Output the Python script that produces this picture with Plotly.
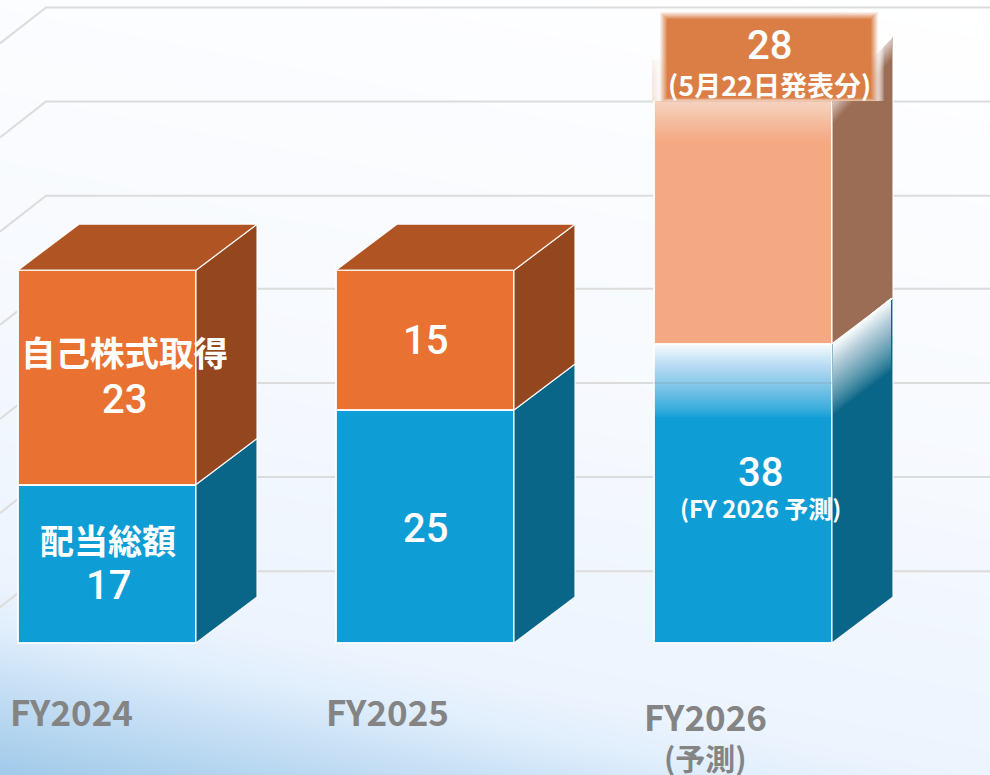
import numpy as np
import plotly.graph_objects as go

# ---------- data ----------
years = [0, 1, 2]
dividend_labels = ["17", "25", "38"]
buyback_labels = ["23", "15", "28"]
dividend_drawn = [17.0, 25.0, 32.1]   # the FY2026 block is drawn shorter than its 38 label
buyback_drawn = [23.0, 15.0, 28.1]
grid_levels = [7.7, 17.8, 27.9, 38.0, 48.0, 58.1, 68.2]

# ---------- geometry ----------
PX_CAT, X0, PX_UNIT, Y0 = 318.0, 107.0, 9.32, 643.0
W, H = 990, 775
def X(px): return (px - X0) / PX_CAT
def V(py): return (Y0 - py) / PX_UNIT
BAR_W = 178 / PX_CAT
DX, DV = 61 / PX_CAT, 46 / PX_UNIT

BLUE, BLUE_SIDE = "#0f9dd6", "#0a6688"
ORANGE, ORANGE_TOP, ORANGE_SIDE = "#e97232", "#b05424", "#94471e"
PEACH, PEACH_SIDE, BOX = "#f5a983", "#9b6d54", "#db7e45"
EDGE = "rgba(255,255,255,0.9)"
LABEL = "#848484"

fig = go.Figure()

# background wash
gx = np.linspace(0, W, 100)
gy = np.linspace(0, H, 90)
s = gy[:, None] - 0.2 * gx[None, :]
stops = [(-200, 0), (300, 1), (580, 2), (630, 3), (685, 4), (765, 5)]
z = np.interp(s, [a for a, _ in stops], [b for _, b in stops]) / 5
fig.add_trace(go.Heatmap(
    x=X(gx), y=V(gy), z=z, zmin=0, zmax=1, zsmooth="best", showscale=False, hoverinfo="skip",
    colorscale=[[0, "#ffffff"], [0.2, "#f6f9fe"], [0.4, "#ecf4fe"], [0.6, "#e0eefc"],
                [0.8, "#c6dff5"], [1, "#a4ccea"]]))

# back wall grid with its left return (lower axes pair, so it sits behind the blocks)
gxs, gys = [], []
for lv in grid_levels:
    gxs += [X(0), X(46), X(990), None]
    gys += [lv - 36 / PX_UNIT, lv, lv, None]
fig.add_trace(go.Scatter(x=gxs, y=gys, mode="lines", line=dict(color="#dcdcdc", width=2),
                         hoverinfo="skip", showlegend=False))

# front faces
fig.add_trace(go.Bar(x=years, y=dividend_drawn, width=BAR_W, xaxis="x2", yaxis="y2",
                     marker=dict(color=BLUE, line=dict(color=EDGE, width=2)),
                     hoverinfo="skip", showlegend=False))
fig.add_trace(go.Bar(x=years, y=buyback_drawn, width=BAR_W, xaxis="x2", yaxis="y2",
                     marker=dict(color=[ORANGE, ORANGE, PEACH], line=dict(color=EDGE, width=2)),
                     hoverinfo="skip", showlegend=False))

def poly(xs, ys, color, width=1.2, line=EDGE):
    fig.add_trace(go.Scatter(x=xs + xs[:1], y=ys + ys[:1], mode="lines", fill="toself", fillcolor=color,
                             xaxis="x2", yaxis="y2",
                             line=dict(color=line, width=width), hoverinfo="skip", showlegend=False))

# side and top faces, computed from the values
for i, d, b in zip(years, dividend_drawn, buyback_drawn):
    r = i + BAR_W / 2
    l = i - BAR_W / 2
    t = d + b
    poly([r, r + DX, r + DX, r], [0, DV, d + DV, d], BLUE_SIDE)
    poly([r, r + DX, r + DX, r], [d, d + DV, t + DV, t], PEACH_SIDE if i == 2 else ORANGE_SIDE)
    if i != 2:
        poly([l, l + DX, r + DX, r], [t, t + DV, t + DV, t], ORANGE_TOP)

# ---------- FY2026 fades ----------
shapes = []
def layer(pts, color, alpha):
    p = "M" + " L".join(f"{X(a):.5f},{V(b):.5f}" for a, b in pts) + " Z"
    shapes.append(dict(type="path", path=p, xref="x", yref="y", fillcolor=color, opacity=float(alpha),
                       line=dict(width=0), layer="above"))

def fade(make_pts, n, amax, color="#ffffff", power=1.0):
    """stack of layers whose accumulated opacity rises from 0 to amax"""
    prev = 0.0
    for k in range(1, n + 1):
        f = k / n
        a = amax * f ** power
        layer(make_pts(f), color, 1 - (1 - a) / (1 - prev))
        prev = a

FL, FR = 654, 832
SR = 891
# blue front: fade up to its top edge
fade(lambda f: [(FL - 1, 345), (FR, 345), (FR, 419 - 74 * f), (FL - 1, 419 - 74 * f)], 40, 0.98, power=0.8)
# blue side
fade(lambda f: [(FR + 1, 344), (SR, 298), (SR, 372 - 72 * f), (FR + 1, 416 - 70 * f)], 40, 0.97, power=0.85)
# grid seen through the blue fade
layer([(FL, 382), (FR, 382), (FR, 384), (FL, 384)], "#7f9fb0", 0.3)
# peach front: fade up under the box
fade(lambda f: [(FL - 1, 60), (FR, 60), (FR, 143 - 43 * f), (FL - 1, 143 - 43 * f)], 24, 0.57)
layer([(FL - 2, 60), (FR + 1, 60), (FR + 1, 101), (FL - 2, 101)], "#f6e4da", 1)
fade(lambda f: [(FL - 2, 40), (FR + 1, 40), (FR + 1, 101 - 60 * f), (FL - 2, 101 - 60 * f)], 16, 0.98)
# peach side
fade(lambda f: [(FR + 1, 60), (SR + 1, 30), (SR + 1, 60 - 22 * f), (FR + 1, 125 - 25 * f)], 24, 0.72)
layer([(FR + 1, 30), (SR + 1, 30), (SR + 1, 38), (FR + 1, 100)], "#ffffff", 1)

# blurred box carrying the announced figure
for k in range(8):
    layer([(654 + k, 8 + k), (884 - k, 8 + k), (884 - k, 101), (654 + k, 101)], "#ffffff", 0.18)
for k in range(8):
    a = 1 - (1 - (k + 1) / 8) / (1 - k / 8) if k < 7 else 1
    layer([(660 + k, 12 + k), (878 - k, 12 + k), (878 - k, 102 - k * 0.6), (660 + k, 102 - k * 0.6)], BOX, a)

# ---------- text ----------
CJK = "Noto Sans CJK JP"
NUM = "Roboto"
notes = []
def text(px, py, s, size, color="#ffffff", weight=700, family=CJK):
    notes.append(dict(x=X(px), y=V(py), xref="x", yref="y", text=s, showarrow=False,
                      font=dict(family=family, size=size, color=color, weight=weight),
                      xanchor="center", yanchor="middle"))

text(124, 351, "自己株式取得", 34.5)
text(124, 399, buyback_labels[0], 40, weight=500, family=NUM)
text(108, 539, "配当総額", 34)
text(108, 585, dividend_labels[0], 40, weight=500, family=NUM)
text(425, 340, buyback_labels[1], 40, weight=500, family=NUM)
text(425, 528, dividend_labels[1], 40, weight=500, family=NUM)
text(760, 472, dividend_labels[2], 40, weight=500, family=NUM)
text(760, 507, "(FY 2026 予測)", 24)
text(769, 45, buyback_labels[2], 40, weight=500, family=NUM)
text(769, 84, "(5月22日発表分)", 27)
text(71, 710, "FY2024", 35, LABEL)
text(387, 710, "FY2025", 35, LABEL)
text(705, 715, "FY2026", 35, LABEL)
text(705, 757, "(予測)", 30, LABEL)

axis = dict(visible=False, fixedrange=True)
fig.update_layout(
    width=W, height=H, autosize=False, margin=dict(l=0, r=0, t=0, b=0),
    barmode="stack", plot_bgcolor="white", paper_bgcolor="white", showlegend=False,
    xaxis=dict(range=[X(0), X(W)], **axis),
    yaxis=dict(range=[V(H), V(0)], **axis),
    xaxis2=dict(range=[X(0), X(W)], overlaying="x", **axis),
    yaxis2=dict(range=[V(H), V(0)], overlaying="y", **axis),
    shapes=shapes, annotations=notes)

fig.write_html("out.html", config=dict(displayModeBar=False),
               post_script="document.body.style.margin='0';document.body.style.overflow='hidden';")
